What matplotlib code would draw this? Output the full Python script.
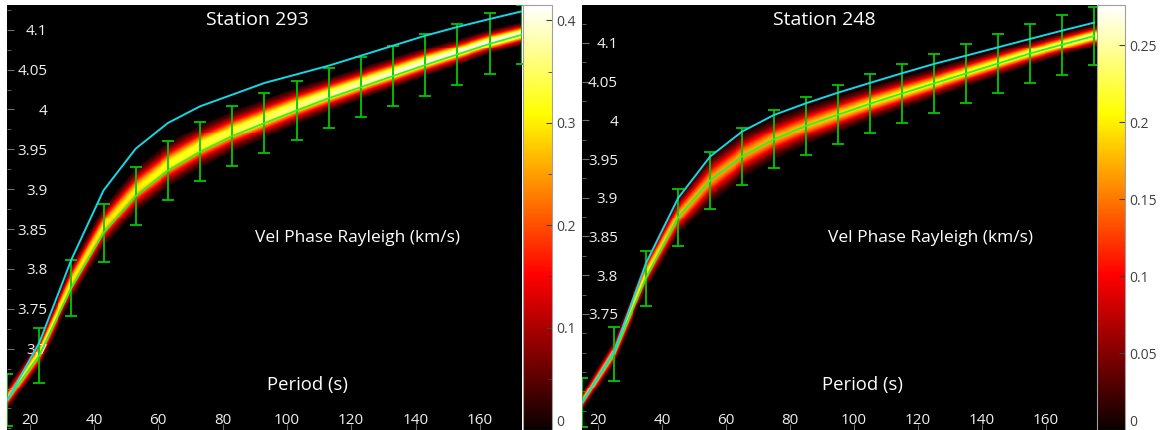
import numpy as np
import matplotlib
matplotlib.use('Agg')
import matplotlib.pyplot as plt
from matplotlib.colors import ListedColormap
from matplotlib.ticker import MultipleLocator

plt.rcParams['font.family'] = ['Open Sans', 'DejaVu Sans']

# ---- Station 293 (left panel) ----
periods_293 = [13, 23, 33, 43, 53, 63, 73, 83, 93, 103, 113, 123, 133, 143, 153, 163, 173]
mean_293 = [3.6354, 3.6915, 3.7761, 3.8452, 3.8916, 3.9234, 3.9468, 3.9667, 3.9828,
            3.9987, 4.0141, 4.0279, 4.0419, 4.0557, 4.0690, 4.0822, 4.0937]
std_293 = [0.0329, 0.0345, 0.0347, 0.0366, 0.0362, 0.0366, 0.0370, 0.0372, 0.0374,
           0.0374, 0.0374, 0.0379, 0.0380, 0.0385, 0.0384, 0.0382, 0.0370]
best_293 = [3.6350, 3.7071, 3.8116, 3.8985, 3.9508, 3.9830, 4.0039, 4.0185, 4.0332,
            4.0440, 4.0549, 4.0674, 4.0800, 4.0925, 4.1034, 4.1134, 4.1230]
# density band: centre, half width (km/s) and peak value
band_c_293 = [3.6374, 3.6955, 3.7841, 3.8532, 3.8996, 3.9304, 3.9538, 3.9727, 3.9888,
              4.0047, 4.0191, 4.0329, 4.0459, 4.0597, 4.0720, 4.0852, 4.0957]
band_w_293 = [0.0150, 0.0180, 0.0228, 0.0252, 0.0270, 0.0270, 0.0264, 0.0252, 0.0240,
              0.0222, 0.0204, 0.0192, 0.0186, 0.0175, 0.0162, 0.0151, 0.0140]
band_p_293 = [0.30, 0.32, 0.30, 0.30, 0.30, 0.32, 0.33, 0.34, 0.35, 0.36, 0.37, 0.38,
              0.39, 0.40, 0.40, 0.41, 0.41]

# ---- Station 248 (right panel) ----
periods_248 = [15, 25, 35, 45, 55, 65, 75, 85, 95, 105, 115, 125, 135, 145, 155, 165, 175]
mean_248 = [3.6355, 3.6987, 3.7963, 3.8746, 3.9224, 3.9534, 3.9756, 3.9928, 4.0073,
            4.0215, 4.0348, 4.0477, 4.0606, 4.0735, 4.0864, 4.0978, 4.1090]
std_248 = [0.0315, 0.0349, 0.0355, 0.0364, 0.0372, 0.0372, 0.0375, 0.0378, 0.0381,
           0.0381, 0.0385, 0.0385, 0.0385, 0.0385, 0.0385, 0.0387, 0.0378]
best_248 = [3.6355, 3.7013, 3.8155, 3.8994, 3.9532, 3.9855, 4.0070, 4.0221, 4.0358,
            4.0484, 4.0609, 4.0729, 4.0836, 4.0944, 4.1052, 4.1159, 4.1262]
band_c_248 = [3.6365, 3.7017, 3.8023, 3.8766, 3.9234, 3.9544, 3.9766, 3.9938, 4.0083,
              4.0225, 4.0358, 4.0487, 4.0616, 4.0745, 4.0874, 4.0988, 4.1100]
band_w_248 = [0.0124, 0.0155, 0.0199, 0.0248, 0.0298, 0.0285, 0.0267, 0.0248, 0.0230,
              0.0211, 0.0199, 0.0186, 0.0174, 0.0167, 0.0155, 0.0149, 0.0143]
band_p_248 = [0.20, 0.21, 0.20, 0.18, 0.17, 0.17, 0.175, 0.18, 0.19, 0.20, 0.205,
              0.21, 0.215, 0.22, 0.23, 0.24, 0.25]

xticks = [20, 40, 60, 80, 100, 120, 140, 160]
yticks_293 = [3.7, 3.75, 3.8, 3.85, 3.9, 3.95, 4.0, 4.05, 4.1]
ylabels_293 = ['3.7', '3.75', '3.8', '3.85', '3.9', '3.95', '4', '4.05', '4.1']
yticks_248 = [3.75, 3.8, 3.85, 3.9, 3.95, 4.0, 4.05, 4.1]
ylabels_248 = ['3.75', '3.8', '3.85', '3.9', '3.95', '4', '4.05', '4.1']
cb_ticks_293 = [0, 0.1, 0.2, 0.3, 0.4]
cb_labels_293 = ['0', '0.1', '0.2', '0.3', '0.4']
cb_ticks_248 = [0, 0.05, 0.1, 0.15, 0.2, 0.25]
cb_labels_248 = ['0', '0.05', '0.1', '0.15', '0.2', '0.25']

# hot colormap with a pure black floor
hot_cols = plt.get_cmap('hot')(np.linspace(0, 1, 256))
hot_cols[0] = [0, 0, 0, 1]
hot_black = ListedColormap(hot_cols)


def band_image(periods, centre, half, peak, xlim, ylim, nx=520, ny=430):
    xg = np.linspace(xlim[0], xlim[1], nx)
    yg = np.linspace(ylim[0], ylim[1], ny)
    c = np.interp(xg, periods, centre)
    w = np.interp(xg, periods, half)
    p = np.interp(xg, periods, peak)
    d = (yg[:, None] - c[None, :]) / w[None, :]
    z = p[None, :] * np.exp(-0.5 * (d / 0.42) ** 2)
    z[np.abs(d) > 1] = 0
    return z


def draw_panel(ax, cax, title, periods, mean, std, best, bc, bw, bp, xlim, ylim, vmax,
               yticks, ylabels, cbt, cbl, ypad, pos):
    z = band_image(periods, bc, bw, bp, xlim, ylim)
    im = ax.imshow(z, origin='lower', extent=[xlim[0], xlim[1], ylim[0], ylim[1]],
                   aspect='auto', cmap=hot_black, vmin=0, vmax=vmax,
                   interpolation='nearest', zorder=0)
    ax.set_facecolor('black')
    ax.errorbar(periods, mean, yerr=std, color='#33ee33', ecolor='#00c800',
                elinewidth=1.3, capsize=4, capthick=1.3, lw=1.3, zorder=3)
    ax.plot(periods, best, color='#14d8e6', lw=1.4, zorder=4)
    ax.set_xlim(xlim)
    ax.set_ylim(ylim)
    for sp in ax.spines.values():
        sp.set_visible(False)

    ax.set_xticks(xticks)
    ax.set_xticklabels([str(t) for t in xticks])
    ax.set_yticks(yticks)
    ax.set_yticklabels(ylabels)
    ax.yaxis.set_minor_locator(MultipleLocator(0.025))
    ax.tick_params(axis='x', direction='in', pad=-12.5, labelsize=11,
                   labelcolor='#f0f0f0', color='#707070', length=4)
    ax.tick_params(axis='y', which='both', direction='in', pad=ypad, labelsize=11,
                   labelcolor='#f0f0f0', color='#707070')
    ax.tick_params(axis='y', which='major', length=5)
    ax.tick_params(axis='y', which='minor', length=3)

    ax.text(pos[0], 0.965, title, transform=ax.transAxes, ha='center', va='center',
            color='white', fontsize=14, zorder=5)
    ax.text(pos[1], 0.452, 'Vel Phase Rayleigh (km/s)', transform=ax.transAxes,
            ha='center', va='center', color='white', fontsize=12.5, zorder=5)
    ax.text(pos[2], 0.106, 'Period (s)', transform=ax.transAxes, ha='center',
            va='center', color='white', fontsize=13.3, zorder=5)

    cb = plt.colorbar(im, cax=cax)
    cb.set_ticks(cbt)
    cb.set_ticklabels([''] + cbl[1:])
    cb.outline.set_edgecolor('#a0a0a0')
    cb.ax.tick_params(direction='in', labelsize=10, labelcolor='#404040',
                      color='#404040', pad=3, length=4)
    # bottom label kept inside the figure
    cb.ax.annotate(cbl[0], xy=(1, 0), xycoords='axes fraction', xytext=(3, 0),
                   textcoords='offset points', ha='left', va='bottom',
                   fontsize=10, color='#404040', annotation_clip=False)
    return cb


fig = plt.figure(figsize=(11.71, 4.30), dpi=100)
W, H = 1171.0, 430.0

ax1 = fig.add_axes([7 / W, 0, 515 / W, 425 / H])
cax1 = fig.add_axes([522.5 / W, 0, 29.5 / W, 425 / H])
ax2 = fig.add_axes([582 / W, 0, 515 / W, 425 / H])
cax2 = fig.add_axes([1097 / W, 0, 28 / W, 425 / H])

cb1 = draw_panel(ax1, cax1, 'Station 293', periods_293, mean_293, std_293, best_293,
                 band_c_293, band_w_293, band_p_293, (13, 173.1), (3.598, 4.131), 0.415,
                 yticks_293, ylabels_293, cb_ticks_293, cb_labels_293, -29,
                 (0.487, 0.68, 0.584))
cb1.ax.yaxis.set_minor_locator(MultipleLocator(0.05))
cb1.ax.tick_params(which='minor', direction='in', color='#404040', length=3)

draw_panel(ax2, cax2, 'Station 248', periods_248, mean_248, std_248, best_248,
           band_c_248, band_w_248, band_p_248, (15, 175.9), (3.600, 4.149), 0.276,
           yticks_248, ylabels_248, cb_ticks_248, cb_labels_248, -26,
           (0.471, 0.676, 0.544))

fig.savefig('out.png', dpi=100, facecolor='white')
